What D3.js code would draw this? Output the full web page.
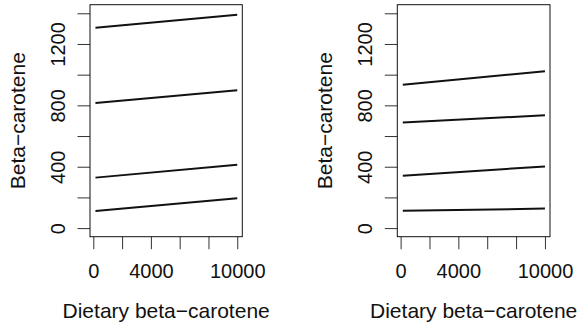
<!DOCTYPE html>
<html>
<head>
<meta charset="utf-8">
<script src="https://cdn.jsdelivr.net/npm/d3@7"></script>
<style>
  html, body { margin: 0; padding: 0; background: #fff; }
  svg { display: block; font-family: "Liberation Sans", Arial, Helvetica, sans-serif; }
</style>
</head>
<body>
<svg id="chart" width="579" height="323"></svg>
<script>
// Fitted lines: beta-carotene vs dietary beta-carotene, one line per group.
const xStart = 150;
const xEnd = 10000;
const leftStarts = [1306, 815, 329, 111];
const leftEnds   = [1390, 898, 413, 195];
const rightStarts = [935, 689, 342, 113];
const rightEnds   = [1023, 735, 402, 127];

const xTicks = [0, 2000, 4000, 6000, 8000, 10000];
const xTickLabels = ["0", "", "4000", "", "", "10000"];
const yTicks = [0, 200, 400, 600, 800, 1000, 1200, 1400];
const yTickLabels = ["0", "", "400", "", "800", "", "1200", ""];

const xDomain = [-230, 10350];
const yDomain = [-56, 1456];
const xTitle = "Dietary beta\u2212carotene";
const yTitle = "Beta\u2212carotene";

const svg = d3.select("#chart");

const panels = [
  { left: 90, right: 242.3, starts: leftStarts, ends: leftEnds },
  { left: 397.3, right: 550, starts: rightStarts, ends: rightEnds }
];
const boxTop = 4.7, boxBottom = 236.7;

panels.forEach(p => {
  const x = d3.scaleLinear().domain(xDomain).range([p.left, p.right]);
  const y = d3.scaleLinear().domain(yDomain).range([boxBottom, boxTop]);
  const g = svg.append("g");

  // x axis ticks
  const xa = g.append("g")
    .attr("transform", `translate(0,${boxBottom})`)
    .call(d3.axisBottom(x).tickValues(xTicks).tickSize(12.5).tickSizeOuter(0)
      .tickFormat((d, i) => xTickLabels[i]));
  xa.select(".domain").remove();
  xa.selectAll(".tick line").attr("stroke", "#333").attr("stroke-width", 1);
  xa.selectAll(".tick text")
    .attr("y", 0).attr("dy", 0)
    .attr("transform", "translate(0,41.6)")
    .attr("font-size", 20).attr("fill", "#111")
    .attr("font-family", "Liberation Sans, Arial, sans-serif");

  // y axis ticks
  const ya = g.append("g")
    .attr("transform", `translate(${p.left},0)`)
    .call(d3.axisLeft(y).tickValues(yTicks).tickSize(12.5).tickSizeOuter(0)
      .tickFormat((d, i) => yTickLabels[i]));
  ya.select(".domain").remove();
  ya.selectAll(".tick line").attr("stroke", "#333").attr("stroke-width", 1);
  ya.selectAll(".tick text")
    .attr("x", 0).attr("dy", 0)
    .attr("text-anchor", "middle")
    .attr("transform", "translate(-25,0) rotate(-90)")
    .attr("font-size", 20).attr("fill", "#111")
    .attr("font-family", "Liberation Sans, Arial, sans-serif");

  // plot box
  g.append("rect")
    .attr("x", p.left).attr("y", boxTop)
    .attr("width", p.right - p.left).attr("height", boxBottom - boxTop)
    .attr("fill", "none").attr("stroke", "#111").attr("stroke-width", 1);

  // fitted lines
  const line = d3.line().x(d => x(d[0])).y(d => y(d[1]));
  p.starts.forEach((s, i) => {
    g.append("path")
      .datum([[xStart, s], [xEnd, p.ends[i]]])
      .attr("d", line)
      .attr("fill", "none").attr("stroke", "#111").attr("stroke-width", 2);
  });

  // axis titles
  g.append("text")
    .attr("x", (p.left + p.right) / 2).attr("y", 318)
    .attr("text-anchor", "middle").attr("font-size", 21).attr("fill", "#111")
    .text(xTitle);
  g.append("text")
    .attr("transform", `translate(${p.left - 65},${(boxTop + boxBottom) / 2}) rotate(-90)`)
    .attr("text-anchor", "middle").attr("font-size", 21).attr("fill", "#111")
    .text(yTitle);
});
</script>
</body>
</html>
